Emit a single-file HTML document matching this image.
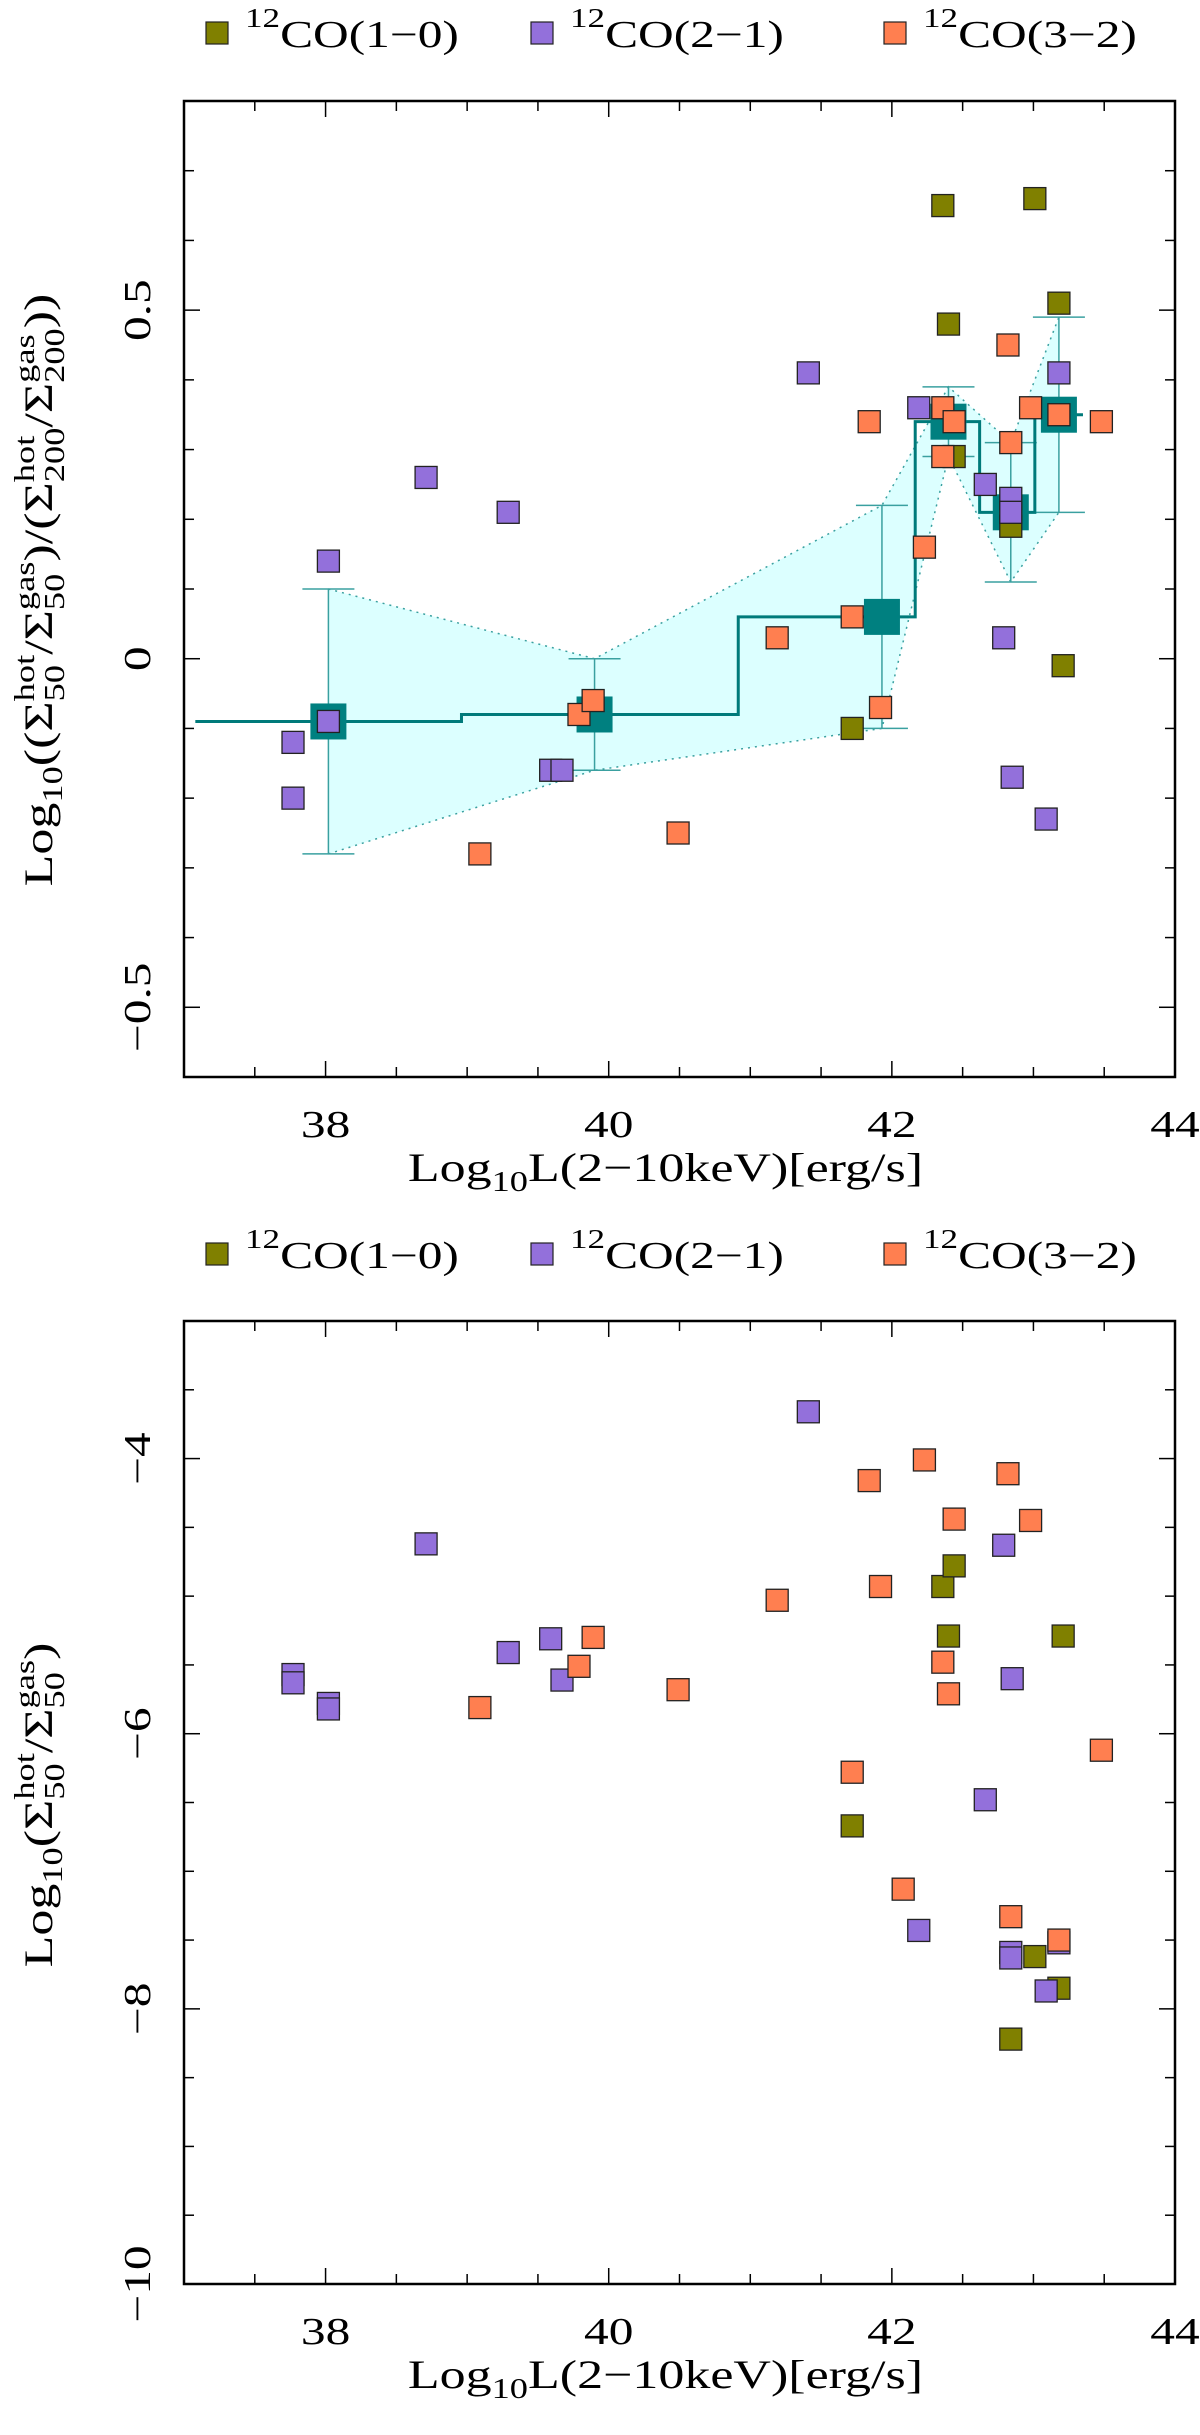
<!DOCTYPE html>
<html><head><meta charset="utf-8"><style>
html,body{margin:0;padding:0;background:#fff;}
svg{display:block;font-family:"Liberation Serif","DejaVu Serif",serif;}
</style></head><body>
<svg id="chart" width="1200" height="2435" viewBox="0 0 1200 2435" xmlns="http://www.w3.org/2000/svg">
<g id="top"></g>
<g id="bot"></g>
</svg>
<script>
// ---- data: top panel ----
const topCo10X = [42.36,43.01,43.18,42.40,42.44,42.84,43.21,41.72];
const topCo10Y = [0.65,0.66,0.51,0.48,0.29,0.19,-0.01,-0.10];
const topCo21X = [38.02,37.77,37.77,38.02,38.71,39.29,39.59,39.67,41.41,42.19,42.66,42.84,42.84,42.79,42.85,43.09,43.18];
const topCo21Y = [0.14,-0.12,-0.20,-0.09,0.26,0.21,-0.16,-0.16,0.41,0.36,0.25,0.23,0.21,0.03,-0.17,-0.23,0.41];
const topCo32X = [39.09,39.79,39.89,40.49,41.19,41.72,41.84,41.92,42.23,42.36,42.44,42.36,42.82,42.84,42.98,43.18,43.48];
const topCo32Y = [-0.28,-0.08,-0.06,-0.25,0.03,0.06,0.34,-0.07,0.16,0.36,0.34,0.29,0.45,0.31,0.36,0.35,0.34];
const binX = [38.02,39.90,41.93,42.40,42.84,43.18];
const binY = [-0.09,-0.08,0.06,0.34,0.21,0.35];
const binHi = [0.10,0.00,0.22,0.39,0.31,0.49];
const binLo = [-0.28,-0.16,-0.10,0.29,0.11,0.21];
// ---- data: bottom panel ----
const botCo10X = [42.36,42.44,42.40,43.21,41.72,43.01,43.18,42.84];
const botCo10Y = [-4.93,-4.78,-5.29,-5.29,-6.67,-7.62,-7.85,-8.22];
const botCo21X = [41.41,38.71,37.77,37.77,38.02,38.02,39.29,39.59,39.67,42.79,42.85,42.66,42.19,42.84,42.84,43.18,43.09];
const botCo21Y = [-3.66,-4.62,-5.57,-5.63,-5.78,-5.82,-5.41,-5.31,-5.61,-4.63,-5.60,-6.48,-7.43,-7.59,-7.63,-7.52,-7.87];
const botCo32X = [39.09,39.79,39.89,40.49,41.19,41.72,41.84,41.92,42.08,42.23,42.36,42.40,42.44,42.82,42.98,42.84,43.18,43.48];
const botCo32Y = [-5.81,-5.51,-5.30,-5.68,-5.03,-6.28,-4.16,-4.93,-7.13,-4.01,-5.48,-5.71,-4.44,-4.11,-4.45,-7.33,-7.50,-6.12];
const xTicks = [38,40,42,44];
const topYTicks = [-0.5,0,0.5];
const topYTickLabels = ["\u22120.5","0","0.5"];
const botYTicks = [-10,-8,-6,-4];
const botYTickLabels = ["\u221210","\u22128","\u22126","\u22124"];

const NS="http://www.w3.org/2000/svg";
const SCX=1.3;
function mk(parent,tag,attrs,text){const e=document.createElementNS(NS,tag);for(const k in attrs)e.setAttribute(k,attrs[k]);if(text!==undefined)e.textContent=text;parent.appendChild(e);return e;}

// rich text: segs = [text, fontSize, baselineShift, stackWithPrev]
function rich(parent,segs,x,y,anchor,rot,name){
  const outer=mk(parent,'g',{});
  
  
  const inner=mk(outer,'g',{});
  let cur=0,prevStart=0,prevW=0;
  segs.forEach(s=>{
    let start=cur;
    if(s[3]){start=prevStart;}
    const t=mk(inner,'text',{x:start,y:s[2],'font-size':s[1]},s[0]);
    const w=t.getComputedTextLength();
    if(s[3]){cur=prevStart+Math.max(prevW,w);}
    else{cur=start+w;prevStart=start;prevW=w;}
  });
  const total=cur;
  const off=anchor==='middle'?-total/2:(anchor==='end'?-total:0);
  inner.setAttribute('transform',`translate(${off},0)`);
  outer.setAttribute('transform',`translate(${x},${y}) rotate(${rot}) scale(${SCX},1)`);
  return outer;
}

const L=184,R=1175,XMIN=37,XMAX=44;
function sx(v){return L+(v-XMIN)/(XMAX-XMIN)*(R-L);}

function axes(g,T,B,ymin,ymax,yMajor,yMinor,yt,ytl,sy,name){
  const fr=mk(g,'rect',{x:L,y:T,width:R-L,height:B-T,fill:'none',stroke:'#000','stroke-width':2.5});
  
  
  for(let v=XMIN;v<=XMAX+1e-9;v+=0.5){
    const maj=Math.abs(v-Math.round(v/2)*2)<1e-9; const len=maj?16:10; const x=sx(v);
    mk(g,'line',{x1:x,y1:B,x2:x,y2:B-len,stroke:'#000','stroke-width':1.5});
    mk(g,'line',{x1:x,y1:T,x2:x,y2:T+len,stroke:'#000','stroke-width':1.5});
  }
  for(let v=ymin;v<=ymax+1e-9;v+=yMinor){
    const maj=Math.abs(v/yMajor-Math.round(v/yMajor))<1e-6; const len=maj?16:10; const y=sy(v);
    mk(g,'line',{x1:L,y1:y,x2:L+len,y2:y,stroke:'#000','stroke-width':1.5});
    mk(g,'line',{x1:R,y1:y,x2:R-len,y2:y,stroke:'#000','stroke-width':1.5});
  }
  xTicks.forEach(v=>{
    rich(g,[[String(v),38,0,false]],sx(v),B+60,'middle',0,'x-tick-label');
  });
  yt.forEach((v,i)=>{
    rich(g,[[ytl[i],38,0,false]],150,sy(v),'middle',-90,'y-tick-label');
  });
  rich(g,[['Log',40,0],['10',28,10],['L(2\u221210keV)[erg/s]',40,0]],(L+R)/2-14,B+104,'middle',0,'x-axis-title');
}

function legend(g,y){
  const items=[[217,'#808000','(1\u22120)','legend-co10'],[542,'#9370db','(2\u22121)','legend-co21'],[895,'#ff7f50','(3\u22122)','legend-co32']];
  items.forEach(it=>{
    const e=mk(g,'g',{});
    
    
    mk(e,'rect',{x:it[0]-11,y:y-11,width:22,height:22,fill:it[1],stroke:'#222','stroke-width':1.2});
    rich(e,[['12',27,-20],['CO'+it[2],38,0]],it[0]+28,y+14,'start',0,'legend-label');
  });
}

function points(g,X,Y,color,sy,name){
  X.forEach((xv,i)=>{
    const r=mk(g,'rect',{x:sx(xv)-11,y:sy(Y[i])-11,width:22,height:22,fill:color,stroke:'#222','stroke-width':1.3});
    
    
  });
}

// ---------- TOP ----------
(function(){
  const g=document.getElementById('top');
  const T=101,B=1077,YMIN=-0.6,YMAX=0.8;
  const sy=v=>B-(v-YMIN)/(YMAX-YMIN)*(B-T);
  legend(g,33);
  let pts=binX.map((x,i)=>sx(x)+','+sy(binHi[i]));
  pts=pts.concat(binX.map((x,i)=>sx(x)+','+sy(binLo[i])).reverse());
  const band=mk(g,'polygon',{points:pts.join(' '),fill:'#dcffff',stroke:'none'});
  
  
  const hiL=mk(g,'polyline',{points:binX.map((x,i)=>sx(x)+','+sy(binHi[i])).join(' '),fill:'none',stroke:'#3aa0a0','stroke-width':1.5,'stroke-dasharray':'2,5'});
  
  
  const loL=mk(g,'polyline',{points:binX.map((x,i)=>sx(x)+','+sy(binLo[i])).join(' '),fill:'none',stroke:'#3aa0a0','stroke-width':1.5,'stroke-dasharray':'2,5'});
  
  
  binX.forEach((x,i)=>{
    const e=mk(g,'g',{stroke:'#3aa0a0','stroke-width':1.5});
    
    
    const X=sx(x),h=26;
    mk(e,'line',{x1:X,y1:sy(binHi[i]),x2:X,y2:sy(binLo[i])});
    mk(e,'line',{x1:X-h,y1:sy(binHi[i]),x2:X+h,y2:sy(binHi[i])});
    mk(e,'line',{x1:X-h,y1:sy(binLo[i]),x2:X+h,y2:sy(binLo[i])});
  });
  const n=binX.length;let d='';
  const edges=[];
  edges.push(binX[0]-(binX[1]-binX[0])/2);
  for(let i=0;i<n-1;i++)edges.push((binX[i]+binX[i+1])/2);
  edges.push(binX[n-1]+(binX[n-1]-binX[n-2])/2);
  for(let i=0;i<n;i++){d+=(i===0?'M':'L')+sx(edges[i])+','+sy(binY[i])+' L'+sx(edges[i+1])+','+sy(binY[i])+' ';}
  const st=mk(g,'path',{d:d,fill:'none',stroke:'#007a7a','stroke-width':3});
  
  
  binX.forEach((x,i)=>{
    const r=mk(g,'rect',{x:sx(x)-18,y:sy(binY[i])-18,width:36,height:36,fill:'#008080'});
    
    
  });
  points(g,topCo10X,topCo10Y,'#808000',sy,'co10-point');
  points(g,topCo21X,topCo21Y,'#9370db',sy,'co21-point');
  points(g,topCo32X,topCo32Y,'#ff7f50',sy,'co32-point');
  axes(g,T,B,YMIN,YMAX,0.5,0.1,topYTicks,topYTickLabels,sy,'top');
  rich(g,[['Log',40,0],['10',28,10],['((\u03a3',40,0],['hot',28,-18],['50',28,12,true],['/\u03a3',40,0],['gas',28,-18],['50',28,12,true],[')/(\u03a3',40,0],['hot',28,-18],['200',28,12,true],['/\u03a3',40,0],['gas',28,-18],['200',28,12,true],['))',40,0]],
    52,590,'middle',-90,'y-axis-title');
})();

// ---------- BOTTOM ----------
(function(){
  const g=document.getElementById('bot');
  const T=1321,B=2284,YMIN=-10,YMAX=-3;
  const sy=v=>B-(v-YMIN)/(YMAX-YMIN)*(B-T);
  legend(g,1254);
  points(g,botCo10X,botCo10Y,'#808000',sy,'co10-point');
  points(g,botCo21X,botCo21Y,'#9370db',sy,'co21-point');
  points(g,botCo32X,botCo32Y,'#ff7f50',sy,'co32-point');
  axes(g,T,B,YMIN,YMAX,2,0.5,botYTicks,botYTickLabels,sy,'bottom');
  rich(g,[['Log',40,0],['10',28,10],['(\u03a3',40,0],['hot',28,-18],['50',28,12,true],['/\u03a3',40,0],['gas',28,-18],['50',28,12,true],[')',40,0]],
    52,1805,'middle',-90,'y-axis-title');
})();
</script>
</body></html>
